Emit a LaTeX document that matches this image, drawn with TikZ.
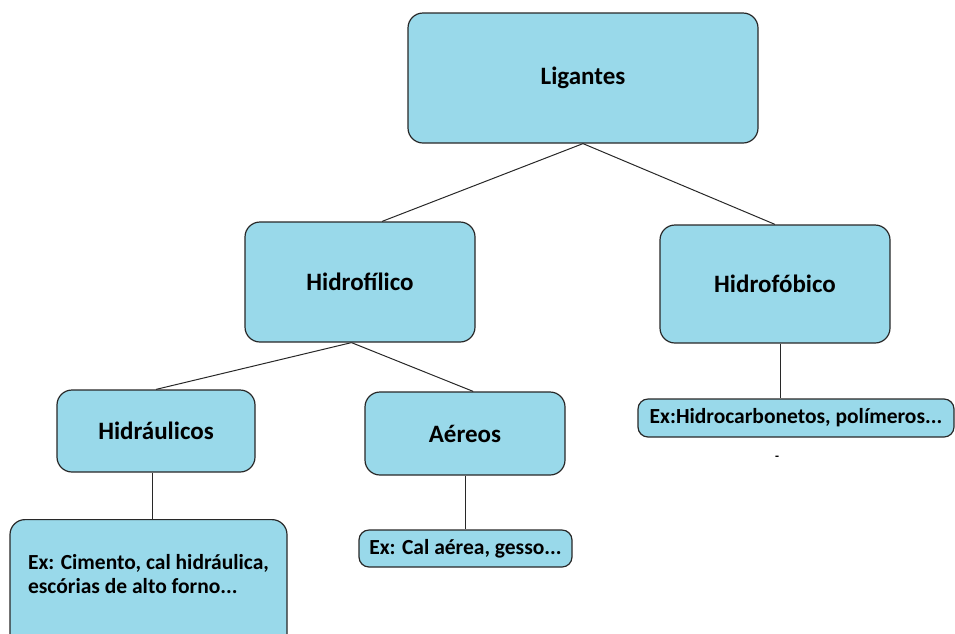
\documentclass[tikz,border=0pt]{standalone}
\usepackage{fontspec}
\setmainfont{Carlito}
\definecolor{boxblue}{RGB}{153,217,234}
\definecolor{edgegray}{RGB}{40,40,40}

\begin{document}
\begin{tikzpicture}[
		x=1pt, y=-1pt,
		every node/.style={draw=edgegray, fill=boxblue, line width=1.2pt},
		topic/.style={rounded corners=15pt, inner sep=0pt, font=\fontsize{25}{30}\selectfont\bfseries},
		example/.style={rounded corners=10pt, inner sep=2pt, font=\fontsize{21.5}{24}\selectfont\bfseries},
		link/.style={draw=edgegray, line width=1pt}
	]
  \useasboundingbox (0, 0) rectangle (955, 633);
  \clip (0, 0) rectangle (955, 633);
  \node (lig) [topic, minimum width=350pt, minimum height=130pt] at (583, 78) {Ligantes};
  \node (hfil) [topic, minimum width=230pt, minimum height=120pt] at (360, 282) {Hidrofílico};
  \node (hfob) [topic, minimum width=230pt, minimum height=118pt] at (775, 284) {Hidrofóbico};
  \node (hidr) [topic, minimum width=198pt, minimum height=82pt] at (156, 431) {Hidráulicos};
  \node (aer) [topic, minimum width=200pt, minimum height=83pt] at (465, 433.5) {Aéreos};
  \node (excim) [example, rounded corners=15pt, minimum width=277pt, minimum height=132pt, anchor=north] at (148.5, 519)
    {\raisebox{4pt}[0pt][0pt]{\begin{tabular}{@{}l@{}}Ex: Cimento, cal hidráulica,\\escórias de alto forno...\end{tabular}}};
  \node (excal) [example, minimum width=213pt, minimum height=37pt] at (465.5, 548.5) {Ex: Cal aérea, gesso...};
  \node (exhc) [example, minimum width=316pt, minimum height=38pt] at (796, 418) {Ex:Hidrocarbonetos, polímeros...};
  \node (dash) [draw=none, fill=none, font=\fontsize{13}{15}\selectfont\bfseries] at (777, 458) {-};
  % links
  \draw [link] (lig.south) -- (hfil.70);
  \draw [link] (lig.south) -- (hfob.north);
  \draw [link] (hfil.262) -- (hidr.north);
  \draw [link] (hfil.262) -- (aer.79);
  \draw [link] (hfob.275) -- (hfob.275 |- exhc.north);
  \draw [link] (hidr.265) -- (hidr.265 |- excim.north);
  \draw [link] (aer.south) -- (aer.south |- excal.north);
\end{tikzpicture}
\end{document}
